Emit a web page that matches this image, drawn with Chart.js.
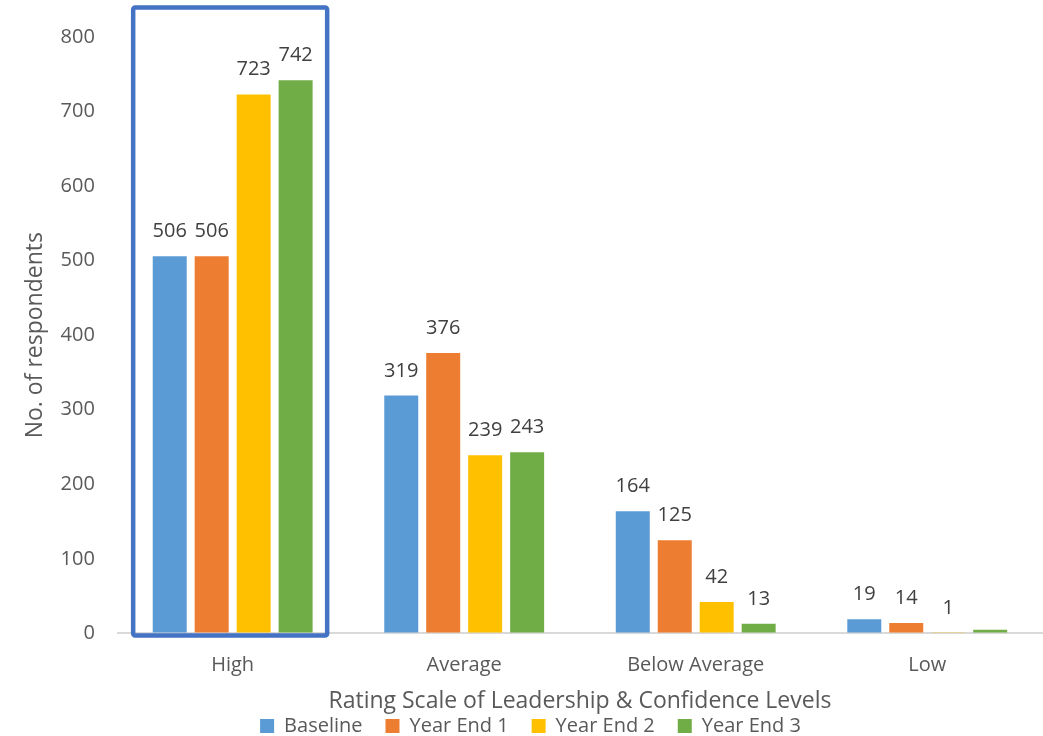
<!DOCTYPE html>
<html>
<head>
<meta charset="utf-8">
<script src="https://cdn.jsdelivr.net/npm/chart.js@4"></script>
<style>
  html, body { margin: 0; padding: 0; background: #fff; }
  #wrap { width: 1043px; height: 736px; }
</style>
</head>
<body>
<div id="wrap"><canvas id="c" width="1043" height="736"></canvas></div>
<script>
// Ratings of leadership & confidence, by survey round
const categories = ['High', 'Average', 'Below Average', 'Low'];
const baseline = [506, 319, 164, 19];
const yearEnd1 = [506, 376, 125, 14];
const yearEnd2 = [723, 239, 42, 1];
const yearEnd3 = [742, 243, 13, 5];
// value labels shown above each bar (null = no label)
const labelsBaseline = ['506', '319', '164', '19'];
const labelsYearEnd1 = ['506', '376', '125', '14'];
const labelsYearEnd2 = ['723', '239', '42', '1'];
const labelsYearEnd3 = ['742', '243', '13', null];
const yTicks = [0, 100, 200, 300, 400, 500, 600, 700, 800];

const FONT = '"Open Sans", Lato, sans-serif';
const GREY = '#595959';

const valueLabels = {
  id: 'valueLabels',
  afterDatasetsDraw(chart) {
    const ctx = chart.ctx;
    ctx.save();
    ctx.font = '20px ' + FONT;
    ctx.fillStyle = '#404040';
    ctx.textAlign = 'center';
    ctx.textBaseline = 'alphabetic';
    chart.data.datasets.forEach((ds, i) => {
      const meta = chart.getDatasetMeta(i);
      meta.data.forEach((bar, j) => {
        const t = ds.valueLabels[j];
        if (t == null) return;
        ctx.fillText(t, bar.x, bar.y - 19);
      });
    });
    ctx.restore();
  }
};

// outline box emphasising the first category
const highlightBox = {
  id: 'highlightBox',
  afterDatasetsDraw(chart) {
    const x = chart.scales.x, y = chart.scales.y;
    const cx = x.getPixelForValue(0) - 2.5;
    const half = 97;
    const top = y.getPixelForValue(800) - 29.5;
    const bottom = y.getPixelForValue(0) + 2;
    const ctx = chart.ctx;
    ctx.save();
    ctx.strokeStyle = '#4472C4';
    ctx.lineWidth = 4.5;
    ctx.lineJoin = 'round';
    ctx.beginPath();
    ctx.roundRect(cx - half, top, half * 2, bottom - top, 2);
    ctx.stroke();
    ctx.restore();
  }
};

new Chart(document.getElementById('c'), {
  type: 'bar',
  data: {
    labels: categories,
    datasets: [
      { label: 'Baseline', data: baseline, backgroundColor: '#5B9BD5', valueLabels: labelsBaseline },
      { label: 'Year End 1', data: yearEnd1, backgroundColor: '#ED7D31', valueLabels: labelsYearEnd1 },
      { label: 'Year End 2', data: yearEnd2, backgroundColor: '#FFC000', valueLabels: labelsYearEnd2 },
      { label: 'Year End 3', data: yearEnd3, backgroundColor: '#70AD47', valueLabels: labelsYearEnd3 }
    ]
  },
  options: {
    responsive: false,
    animation: false,
    devicePixelRatio: 1,
    layout: { padding: { top: 37, right: 0, left: 18, bottom: -10 } },
    datasets: { bar: { categoryPercentage: 0.725, barPercentage: 0.81 } },
    scales: {
      x: {
        grid: { display: false, drawTicks: false },
        border: { display: false },
        ticks: { color: GREY, font: { family: FONT, size: 20 }, padding: 20 },
        title: { display: true, text: 'Rating Scale of Leadership & Confidence Levels', color: GREY, font: { family: FONT, size: 23 }, padding: { top: -10, bottom: -22 } }
      },
      y: {
        min: 0, max: 800,
        afterBuildTicks(scale) { scale.ticks = yTicks.map(v => ({ value: v })); },
        grid: {
          drawTicks: false,
          color: c => c.tick && c.tick.value === 0 ? '#d9d9d9' : 'rgba(0,0,0,0)',
          lineWidth: 2
        },
        border: { display: false },
        ticks: { color: GREY, font: { family: FONT, size: 20 }, padding: 22 },
        title: { display: true, text: 'No. of respondents', color: GREY, font: { family: FONT, size: 23 }, padding: { top: 4, bottom: -11 } }
      }
    },
    plugins: {
      legend: {
        position: 'bottom',
        labels: { color: GREY, font: { family: FONT, size: 20 }, boxWidth: 14, boxHeight: 14, padding: 23 }
      },
      tooltip: { enabled: false }
    }
  },
  plugins: [valueLabels, highlightBox]
});
</script>
</body>
</html>
